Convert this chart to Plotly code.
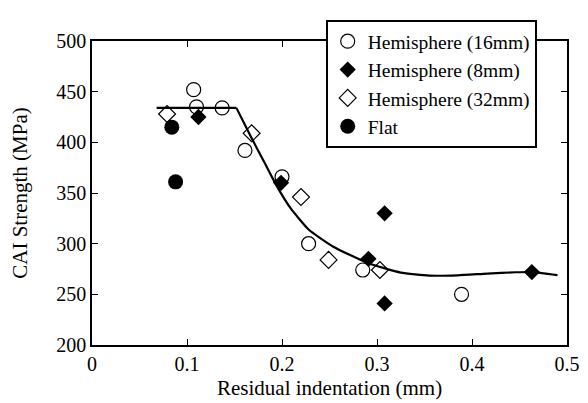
import plotly.graph_objects as go

# Hemisphere 16mm (open circles)
h16_x = [0.107, 0.110, 0.137, 0.161, 0.200, 0.228, 0.285, 0.389]
h16_y = [452, 435, 434, 392, 366, 300, 274, 250]
# Hemisphere 8mm (filled diamonds)
h8_x = [0.112, 0.199, 0.291, 0.308, 0.308, 0.463]
h8_y = [425, 360, 285, 330, 241, 272]
# Hemisphere 32mm (open diamonds)
h32_x = [0.079, 0.168, 0.220, 0.249, 0.303]
h32_y = [428, 409, 346, 284, 274]
# Flat (filled circles)
flat_x = [0.084, 0.088]
flat_y = [415, 361]

# fitted curve
plateau_x = [0.068, 0.152]
plateau_y = [434, 434]
curve_x = [0.152, 0.167, 0.181, 0.195, 0.209, 0.228, 0.254, 0.290, 0.325, 0.355, 0.385, 0.416, 0.446, 0.463, 0.490]
curve_y = [434, 406, 381, 356, 335, 314, 297, 281, 271.5, 268.5, 268.8, 270.5, 271.8, 272, 269]

xticks = [0, 0.1, 0.2, 0.3, 0.4, 0.5]
yticks = [200, 250, 300, 350, 400, 450, 500]

font = "Liberation Serif"

fig = go.Figure()
fig.add_trace(go.Scatter(x=plateau_x, y=plateau_y, mode='lines', line=dict(color='black', width=2.2),
                         showlegend=False, hoverinfo='skip'))
fig.add_trace(go.Scatter(x=curve_x, y=curve_y, mode='lines', line=dict(color='black', width=2.2, shape='spline', smoothing=0.5),
                         showlegend=False, hoverinfo='skip'))
fig.add_trace(go.Scatter(x=h16_x, y=h16_y, mode='markers', name='Hemisphere (16mm)',
                         marker=dict(symbol='circle-open', size=14, color='black', line=dict(width=1.2))))
fig.add_trace(go.Scatter(x=h8_x, y=h8_y, mode='markers', name='Hemisphere (8mm)',
                         marker=dict(symbol='diamond', size=12.5, color='black')))
fig.add_trace(go.Scatter(x=h32_x, y=h32_y, mode='markers', name='Hemisphere (32mm)',
                         marker=dict(symbol='diamond-open', size=13, color='black', line=dict(width=1.2))))
fig.add_trace(go.Scatter(x=flat_x, y=flat_y, mode='markers', name='Flat',
                         marker=dict(symbol='circle', size=15, color='black')))

# the page body adds 8px around the figure, so the figure is 8px smaller
fig.update_layout(
    width=580, height=395,
    margin=dict(l=84, r=21, t=22, b=58),
    plot_bgcolor='white', paper_bgcolor='white',
    font=dict(family=font, size=20, color='black'),
    legend=dict(x=0.492, y=1.069, xanchor='left', yanchor='top',
                bordercolor='black', borderwidth=2, bgcolor='white',
                font=dict(family=font, size=19.5), tracegroupgap=0),
    annotations=[dict(text='Residual indentation (mm)', x=0.5, y=-0.143, xref='paper', yref='paper',
                      xanchor='center', yanchor='middle', showarrow=False, font=dict(size=21))],
)
fig.update_xaxes(range=[0, 0.5], tickvals=xticks, ticktext=['0', '0.1', '0.2', '0.3', '0.4', '0.5'],
                 showline=True, linecolor='black', linewidth=1.5, mirror='ticks', automargin=False,
                 ticks='inside', ticklen=6, tickcolor='black', showgrid=False, zeroline=False)
fig.update_yaxes(range=[200, 500], tickvals=yticks,
                 showline=True, linecolor='black', linewidth=1.5, mirror='ticks', automargin=False,
                 ticks='inside', ticklen=6, tickcolor='black', showgrid=False, zeroline=False,
                 title=dict(text='CAI Strength (MPa)', font=dict(size=21), standoff=26))

fig.write_html("out.html")
